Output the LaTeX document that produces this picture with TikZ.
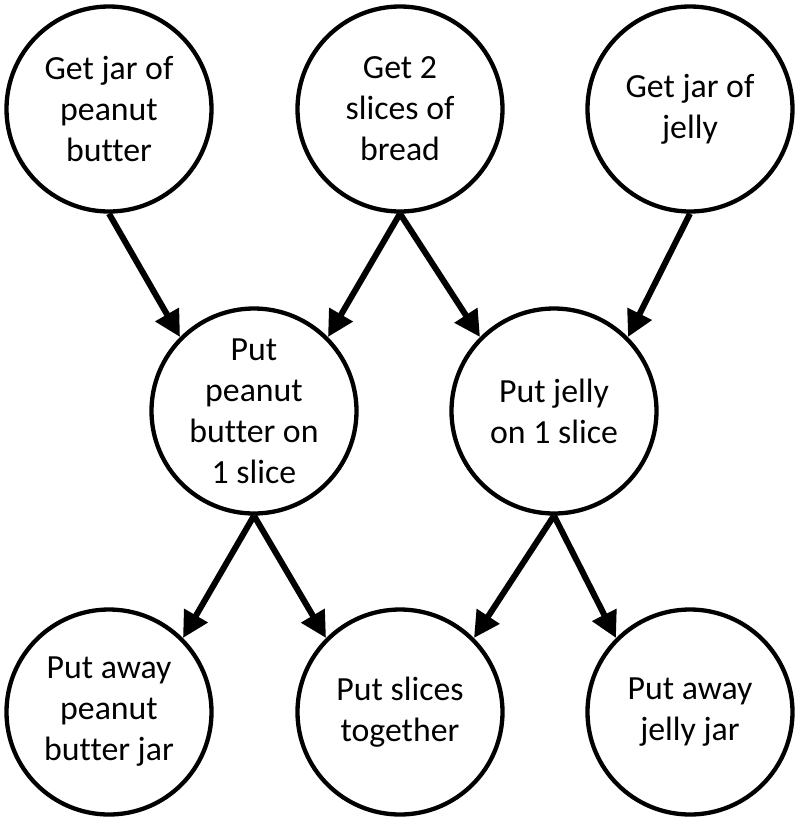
\documentclass[tikz,border=0pt]{standalone}
\usepackage{fontspec}
\setmainfont{Carlito}[Ligatures=NoCommon]
\usetikzlibrary{arrows.meta}
\begin{document}
\begin{tikzpicture}[x=1pt,y=-1pt,
  task/.style={circle,draw,line width=4.3pt,minimum size=205pt,inner sep=0pt,align=center,font=\fontsize{33.8}{41}\selectfont},
  flow/.style={line width=6pt,-{Triangle[length=26pt,width=26pt]}}]
\useasboundingbox (0,0) rectangle (800,823);
\node[task] (pbjar) at (109,109) {Get jar of\\peanut\\butter};
\node[task] (bread) at (400,109) {Get 2\\slices of\\bread};
\node[task] (jjar) at (690,109) {Get jar of\\jelly};
\node[task] (putpb) at (254,411) {Put\\peanut\\butter on\\1 slice};
\node[task] (putj) at (554,411) {Put jelly\\on 1 slice};
\node[task] (awaypb) at (109,712) {Put away\\peanut\\butter jar};
\node[task] (together) at (400,712) {Put slices\\together};
\node[task] (awayj) at (690,712) {Put away\\jelly jar};
\draw[flow] (pbjar.south) -- (putpb.north west);
\draw[flow] (bread.south) -- (putpb.north east);
\draw[flow] (bread.south) -- (putj.north west);
\draw[flow] (jjar.south) -- (putj.north east);
\draw[flow] (putpb.south) -- (awaypb.north east);
\draw[flow] (putpb.south) -- (together.north west);
\draw[flow] (putj.south) -- (together.north east);
\draw[flow] (putj.south) -- (awayj.north west);
\end{tikzpicture}
\end{document}
